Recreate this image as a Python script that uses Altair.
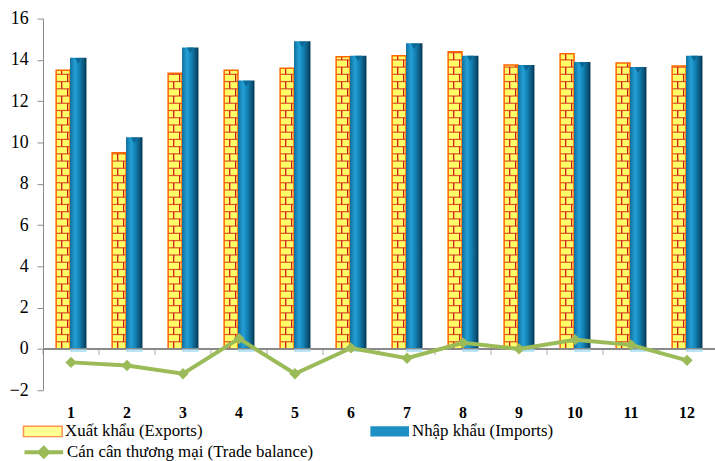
import altair as alt
import pandas as pd

# Monthly trade figures (billion USD)
months = list(range(1, 13))
exports = [13.5, 9.5, 13.35, 13.5, 13.6, 14.15, 14.2, 14.4, 13.75, 14.3, 13.85, 13.7]
imports = [14.1, 10.25, 14.6, 13.0, 14.9, 14.2, 14.8, 14.2, 13.75, 13.9, 13.65, 14.2]
balance = [-0.65, -0.8, -1.2, 0.5, -1.2, 0.05, -0.45, 0.3, 0.0, 0.45, 0.2, -0.55]

EXP = "Xuất khẩu (Exports)"
IMP = "Nhập khẩu (Imports)"
BAL = "Cán cân thương mại (Trade balance)"

df = pd.DataFrame({"month": months, "exports": exports,
                   "imports": imports, "balance": balance})

SERIF = "Liberation Serif"
W, H = 678, 375
HALF = W / 24         # offsets below are measured from the start of each month's band
BRICK = 0.35          # brick course height in axis units
EXP_OFF, EXP_W = HALF - 8, 14
IMP_OFF, IMP_W = HALF + 7.3, 16.6
GREEN = "#9BBB59"
BAR_SYMBOL = "M-1,-0.27H1V0.27H-1Z"

x_axis = alt.Axis(title=None, labelAngle=0, domain=False, ticks=False,
                  labelFont=SERIF, labelFontSize=16, labelFontWeight="bold",
                  labelColor="black", labelPadding=14, orient="bottom")
XS = alt.Scale(paddingInner=0, paddingOuter=0)
X = alt.X("month:O", scale=XS, axis=x_axis)

y_axis = alt.Axis(title=None, grid=False, values=list(range(-2, 17, 2)),
                  labelFont=SERIF, labelFontSize=18, labelColor="black",
                  domainColor="#8a8a8a", tickColor="#8a8a8a", tickSize=6,
                  labelPadding=9)
YS = alt.Scale(domain=[-2, 16], nice=False, zero=False)


def Y(field):
    return alt.Y(f"{field}:Q", scale=YS, axis=y_axis)


def legend(x, y, **kw):
    return alt.Legend(orient="none", legendX=x, legendY=y, title=None,
                      symbolSize=1521, labelFont=SERIF, labelFontSize=17,
                      labelColor="black", labelOffset=2, labelLimit=400, **kw)


def named(chart, label):
    return chart.transform_calculate(series=f"'{label}'")


base = alt.Chart(df)
nothing = base.transform_filter("false")

# zero baseline with tick marks between months
zero_line = base.mark_rule(color="#8a8a8a", strokeWidth=1).encode(y=alt.datum(0))
zero_ticks = base.mark_tick(orient="vertical", size=6, thickness=1, color="#8a8a8a").encode(
    x=alt.X("month:O", bandPosition=0, scale=XS, axis=x_axis),
    y=alt.datum(0), yOffset=alt.value(3))

# brick-pattern export bars
exp_fill = base.mark_bar(width=EXP_W, color="#FFFF66").encode(
    x=X, y=Y("exports"), xOffset=alt.value(EXP_OFF))

courses = base.transform_calculate(
    k=f"sequence(1, ceil(datum.exports / {BRICK}))"
).transform_flatten(["k"]).transform_calculate(yb=f"datum.k * {BRICK}")
mortar_h = courses.mark_tick(orient="horizontal", size=EXP_W, thickness=1.3,
                             color="#D01818").encode(
    x=X, y=alt.Y("yb:Q", scale=YS, axis=y_axis), xOffset=alt.value(EXP_OFF))

joints = base.transform_calculate(
    k=f"sequence(0, ceil(datum.exports / {BRICK}))"
).transform_flatten(["k"]).transform_calculate(
    y0=f"datum.k * {BRICK}",
    y1=f"min((datum.k + 1) * {BRICK}, datum.exports)",
    xo=f"datum.k % 2 == 0 ? {EXP_OFF - 1.4} : {EXP_OFF + 4.6}")
mortar_v = joints.mark_rule(color="#D01818", strokeWidth=1.3).encode(
    x=X, y=alt.Y("y0:Q", scale=YS, axis=y_axis), y2="y1:Q",
    xOffset=alt.XOffset("xo:Q", scale=None))

exp_border = base.mark_bar(width=EXP_W, fillOpacity=0, stroke="#FF6600",
                           strokeWidth=1.5).encode(
    x=X, y=Y("exports"), xOffset=alt.value(EXP_OFF))

# cylinder-shaded import bars
tube = alt.Gradient(gradient="linear", x1=0, x2=1, y1=0, y2=0, stops=[
    alt.GradientStop(offset=0, color="#106E9E"),
    alt.GradientStop(offset=0.3, color="#22A0D6"),
    alt.GradientStop(offset=0.55, color="#1584B8"),
    alt.GradientStop(offset=0.85, color="#0A5478"),
    alt.GradientStop(offset=1, color="#06354E")])
imp_bars = base.mark_bar(width=IMP_W, color=tube).encode(
    x=X, y=Y("imports"), xOffset=alt.value(IMP_OFF))
imp_base = base.mark_tick(orient="horizontal", size=IMP_W, thickness=3,
                          color="#9BD8F2").encode(
    x=X, y=alt.datum(0), xOffset=alt.value(IMP_OFF), yOffset=alt.value(1.5))
imp_cap = base.mark_point(shape="triangle-down", filled=True, size=45,
                          color="#0B6795", opacity=1).encode(
    x=X, y=Y("imports"), xOffset=alt.value(IMP_OFF), yOffset=alt.value(3))

# trade balance line
bal_line = named(base, BAL).mark_line(strokeWidth=4).encode(
    x=X, y=Y("balance"),
    stroke=alt.Stroke("series:N", scale=alt.Scale(domain=[BAL], range=[GREEN]),
                      legend=legend(-20.7, 416,
                                    symbolType="M-1,0H1M-0.22,0L0,-0.22L0.22,0L0,0.22Z",
                                    symbolStrokeWidth=4, symbolFillColor=GREEN)))
bal_pts = base.mark_point(shape="diamond", filled=True, size=130, color=GREEN,
                          opacity=1).encode(x=X, y=Y("balance"))

# legend keys for the two bar series
key_exp = named(nothing, EXP).mark_point(filled=True, color="#FFFF66").encode(
    x=X, y=Y("exports"),
    fill=alt.Fill("series:N", scale=alt.Scale(domain=[EXP], range=["#FFFF66"]),
                  legend=legend(-20.7, 396, symbolType=BAR_SYMBOL,
                                symbolStrokeColor="#FF6600", symbolStrokeWidth=1.5)))
key_imp = named(nothing, IMP).mark_point(filled=True, color="#1C8FC4").encode(
    x=X, y=Y("imports"),
    opacity=alt.Opacity("series:N", scale=alt.Scale(domain=[IMP], range=[1]),
                        legend=legend(329.3, 396, symbolType=BAR_SYMBOL,
                                      symbolFillColor="#1C8FC4",
                                      symbolStrokeColor="#0B4F70",
                                      symbolStrokeWidth=1.5)))

chart = alt.layer(
    exp_fill, mortar_h, mortar_v, exp_border, imp_bars, imp_cap,
    zero_line, zero_ticks, imp_base, bal_line, bal_pts, key_exp, key_imp
).properties(
    width=W, height=H,
    autosize=alt.AutoSizeParams(type="none"),
    padding={"left": 43.4, "top": 16.7, "right": 0, "bottom": 69.3},
    background="white",
).configure_view(stroke=None)

chart.save("out.html", embed_options={"renderer": "svg", "actions": False})
